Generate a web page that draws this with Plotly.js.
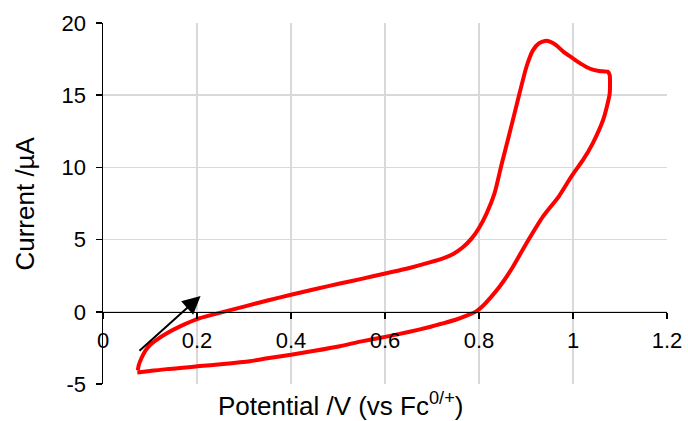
<!DOCTYPE html>
<html>
<head>
<meta charset="utf-8">
<script src="https://cdn.plot.ly/plotly-3.0.1.min.js"></script>
<style>
html,body{margin:0;padding:0;background:#fff;}
#chart{width:688px;height:421px;}
</style>
</head>
<body>
<div id="chart"></div>
<script>
// Cyclic voltammogram
const potential = [
  0.074, 0.076, 0.082, 0.090, 0.100, 0.114, 0.135, 0.164, 0.206, 0.250,
  0.300, 0.350, 0.400, 0.450, 0.504, 0.550, 0.603, 0.650, 0.695, 0.725,
  0.745, 0.765, 0.785, 0.800, 0.816, 0.833, 0.848, 0.865, 0.886, 0.901,
  0.915, 0.928, 0.940, 0.952, 0.964, 0.980, 1.000, 1.018, 1.035, 1.055,
  1.074, 1.078, 1.078, 1.072, 1.064, 1.042, 1.021, 0.998, 0.970, 0.936,
  0.901, 0.870, 0.844, 0.825, 0.808, 0.795, 0.775, 0.750, 0.720, 0.695,
  0.650, 0.603, 0.550, 0.504, 0.450, 0.400, 0.350, 0.3125, 0.250, 0.206,
  0.170, 0.135, 0.100, 0.073
];
const current = [
  -4.05, -3.70, -3.20, -2.70, -2.30, -1.94, -1.50, -1.01, -0.44, -0.06,
  0.36, 0.78, 1.18, 1.56, 1.96, 2.28, 2.67, 3.02, 3.42, 3.72,
  4.00, 4.45, 5.10, 5.80, 6.80, 8.20, 10.2, 12.36, 15.1, 16.97,
  18.12, 18.60, 18.76, 18.70, 18.47, 18.00, 17.55, 17.15, 16.85, 16.68,
  16.62, 16.40, 15.10, 14.20, 13.28, 11.67, 10.50, 9.45, 8.00, 6.59,
  4.75, 3.00, 1.75, 1.00, 0.40, 0.05, -0.25, -0.55, -0.83, -1.05,
  -1.40, -1.72, -2.05, -2.38, -2.70, -2.97, -3.22, -3.42, -3.63, -3.76,
  -3.88, -3.97, -4.10, -4.20
];
const xTicks = [0, 0.2, 0.4, 0.6, 0.8, 1, 1.2];
const xTickLabels = ['0', '0.2', '0.4', '0.6', '0.8', '1', '1.2'];
const yTicks = [-5, 0, 5, 10, 15, 20];
const yTickLabels = ['-5', '0', '5', '10', '15', '20'];
// scan direction arrow: tail -> head (data coordinates)
const arrowTail = [0.068, -2.97];
const arrowHead = [0.2076, 1.1];

const font = 'Arial, "Liberation Sans", sans-serif';

const trace = {
  x: potential, y: current, type: 'scatter', mode: 'lines',
  line: {color: '#ff0000', width: 4, shape: 'spline', smoothing: 0.6},
  hoverinfo: 'skip'
};

const layout = {
  width: 688, height: 421,
  margin: {l: 103, r: 20.5, t: 22.5, b: 37},
  paper_bgcolor: '#ffffff', plot_bgcolor: '#ffffff',
  showlegend: false,
  font: {family: font, color: '#000000', size: 22},
  xaxis: {
    range: [0, 1.2], tickvals: xTicks, ticktext: xTickLabels,
    anchor: 'free', position: 0.2,
    showline: true, linecolor: '#000000', linewidth: 1.5,
    ticks: 'outside', ticklen: 6, tickwidth: 1.5, tickcolor: '#000000',
    ticklabelstandoff: 2,
    showgrid: true, gridcolor: '#d9d9d9', gridwidth: 1.5,
    zeroline: false, fixedrange: true,
    tickfont: {family: font, size: 22, color: '#000000'}
  },
  yaxis: {
    range: [-5, 20], tickvals: yTicks, ticktext: yTickLabels,
    showline: true, linecolor: '#000000', linewidth: 1.5,
    ticks: 'outside', ticklen: 6, tickwidth: 1.5, tickcolor: '#000000',
    ticklabelstandoff: 5,
    showgrid: true, gridcolor: '#d9d9d9', gridwidth: 1.5,
    zeroline: false, fixedrange: true,
    tickfont: {family: font, size: 22, color: '#000000'}
  },
  annotations: [
    {
      x: arrowHead[0], y: arrowHead[1], ax: arrowTail[0], ay: arrowTail[1],
      xref: 'x', yref: 'y', axref: 'x', ayref: 'y',
      text: ' ', showarrow: true, arrowhead: 2, arrowsize: 1.8,
      arrowwidth: 2, arrowcolor: '#000000', standoff: 0
    },
    {
      text: 'Potential /V (vs Fc<sup>0/+</sup>)',
      xref: 'paper', yref: 'paper', x: 0.4216, y: -0.058,
      xanchor: 'center', yanchor: 'middle', showarrow: false,
      font: {family: font, size: 26, color: '#000000'}
    },
    {
      text: 'Current /µA',
      xref: 'paper', yref: 'paper', x: -0.14, y: 0.5,
      xanchor: 'center', yanchor: 'middle', showarrow: false, textangle: -90,
      font: {family: font, size: 26, color: '#000000'}
    }
  ]
};

Plotly.newPlot('chart', [trace], layout, {displayModeBar: false, staticPlot: true});
</script>
</body>
</html>
